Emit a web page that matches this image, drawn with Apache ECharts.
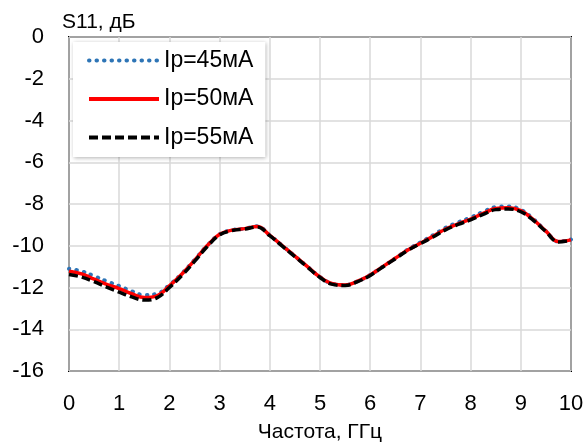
<!DOCTYPE html>
<html><head><meta charset="utf-8">
<script src="https://cdn.jsdelivr.net/npm/echarts@6/dist/echarts.min.js"></script>
<style>html,body{margin:0;padding:0;background:#fff}#c{width:587px;height:448px}</style>
</head><body><div id="c"></div>
<script>
const freq = [0,0.25,0.5,0.75,1,1.25,1.5,1.75,2,2.25,2.5,2.75,3,3.25,3.5,3.75,4,4.25,4.5,4.75,5,5.25,5.5,5.75,6,6.25,6.5,6.75,7,7.25,7.5,7.75,8,8.25,8.5,8.75,9,9.25,9.5,9.75,10];
const s45 = [-11.1,-11.22,-11.45,-11.7,-11.93,-12.18,-12.36,-12.3,-11.88,-11.33,-10.68,-10.0,-9.45,-9.25,-9.18,-9.07,-9.5,-10.0,-10.5,-11.0,-11.5,-11.82,-11.88,-11.7,-11.4,-11.0,-10.6,-10.18,-9.84,-9.5,-9.14,-8.88,-8.65,-8.38,-8.15,-8.12,-8.27,-8.72,-9.3,-9.8,-9.7];
const s50 = [-11.22,-11.35,-11.6,-11.85,-12.05,-12.3,-12.48,-12.4,-11.92,-11.35,-10.7,-10.0,-9.45,-9.25,-9.18,-9.08,-9.5,-10.0,-10.5,-11.0,-11.5,-11.82,-11.88,-11.7,-11.4,-11.0,-10.6,-10.2,-9.88,-9.55,-9.2,-8.95,-8.72,-8.45,-8.22,-8.18,-8.32,-8.75,-9.3,-9.8,-9.72];
const s55 = [-11.38,-11.5,-11.72,-11.98,-12.22,-12.45,-12.6,-12.5,-12.0,-11.42,-10.75,-10.05,-9.48,-9.27,-9.2,-9.1,-9.52,-10.02,-10.52,-11.02,-11.52,-11.85,-11.9,-11.72,-11.42,-11.02,-10.62,-10.22,-9.9,-9.58,-9.24,-8.98,-8.76,-8.5,-8.27,-8.24,-8.37,-8.78,-9.32,-9.82,-9.74];
const names = ['Ip=45мА','Ip=50мА','Ip=55мА'];
const xTicks = [0,1,2,3,4,5,6,7,8,9,10];
const yTicks = [0,-2,-4,-6,-8,-10,-12,-14,-16];

const FONT = 'Liberation Sans';
const zip = a => freq.map((f,i)=>[f,a[i]]);
const chart = echarts.init(document.getElementById('c'));
chart.setOption({
  animation:false,
  textStyle:{fontFamily:FONT},
  grid:{left:69,right:16,top:37,bottom:75,show:true,borderColor:'#000',borderWidth:2,backgroundColor:'transparent'},
  xAxis:{type:'value',min:xTicks[0],max:xTicks[xTicks.length-1],interval:1,
    name:'Частота, ГГц',nameLocation:'middle',nameGap:51,
    nameTextStyle:{color:'#000',fontSize:21,fontFamily:FONT},
    axisLine:{show:false},axisTick:{show:false},
    axisLabel:{color:'#000',fontSize:22,margin:22,fontFamily:FONT},
    splitLine:{lineStyle:{color:'#d9d9d9',width:1.5}}},
  yAxis:{type:'value',min:yTicks[yTicks.length-1],max:yTicks[0],interval:2,
    name:'S11, дБ',nameLocation:'end',nameGap:4,
    nameTextStyle:{color:'#000',fontSize:21,fontFamily:FONT,align:'left',padding:[0,0,0,-7]},
    axisLine:{show:false},axisTick:{show:false},
    axisLabel:{color:'#000',fontSize:22,margin:25,fontFamily:FONT},
    splitLine:{lineStyle:{color:'#d9d9d9',width:1.5}}},
  legend:{orient:'vertical',left:73,top:42,
    padding:[7,12,8,14],itemGap:15.5,itemWidth:70,itemHeight:14,
    backgroundColor:'#fff',shadowBlur:4,shadowColor:'rgba(0,0,0,0.3)',shadowOffsetX:1,shadowOffsetY:1,
    itemStyle:{opacity:0},
    lineStyle:{width:4},
    textStyle:{color:'#000',fontSize:23,fontFamily:FONT,lineHeight:22},
    data:names},
  series:[
    {name:names[0],type:'line',data:zip(s45),smooth:0.4,symbol:'none',
     lineStyle:{color:'#2E75B6',width:4,type:[0.5,7],cap:'round'},itemStyle:{color:'#2E75B6'}},
    {name:names[1],type:'line',data:zip(s50),smooth:0.4,symbol:'none',
     lineStyle:{color:'#FF0000',width:3.5,type:'solid'},itemStyle:{color:'#FF0000'}},
    {name:names[2],type:'line',data:zip(s55),smooth:0.4,symbol:'none',
     lineStyle:{color:'#000',width:3.5,type:[9,4]},itemStyle:{color:'#000'}}
  ]
});
</script></body></html>
